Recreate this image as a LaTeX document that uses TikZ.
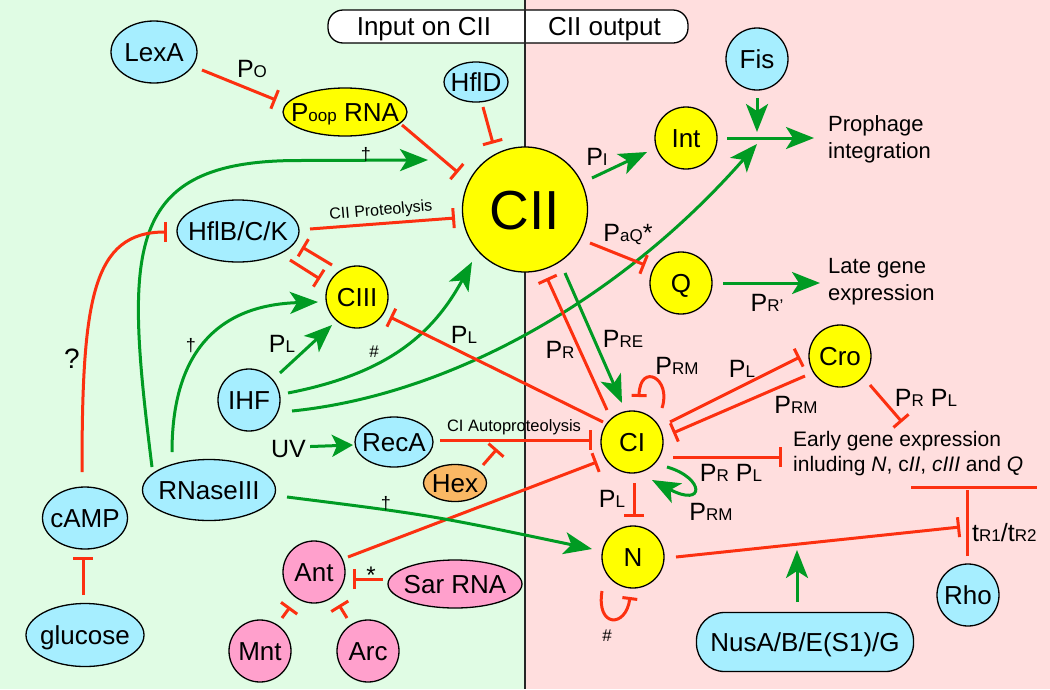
\documentclass[tikz,border=0pt]{standalone}
\usepackage{fontspec}
\setmainfont{Liberation Sans}
\usetikzlibrary{arrows.meta,shapes.geometric}
\definecolor{bgG}{RGB}{224,252,228}
\definecolor{bgP}{RGB}{255,222,222}
\definecolor{nBlue}{RGB}{166,238,255}
\definecolor{nYel}{RGB}{255,255,0}
\definecolor{nOra}{RGB}{250,184,100}
\definecolor{nPink}{RGB}{255,160,204}
\definecolor{cRed}{RGB}{252,48,16}
\definecolor{cGreen}{RGB}{0,155,35}
\newcommand\fN{\fontsize{26}{30}\selectfont}
\newcommand\fL{\fontsize{25}{30}\selectfont}
\newcommand\sbs[1]{{\fontsize{17}{20}\selectfont #1}}
\newcommand\zw[1]{\makebox[0pt]{#1}}
\begin{document}
\begin{tikzpicture}[x=1pt,y=-1pt,
  nd/.style={draw=black, line width=1.3pt, inner sep=0pt, text height=18.6pt, text depth=0pt, font=\fN},
  el/.style={nd, ellipse},
  ci/.style={nd, circle, minimum size=62pt},
  fb/.style={fill=nBlue}, fy/.style={fill=nYel}, fo/.style={fill=nOra}, fp/.style={fill=nPink},
  inh/.style={draw=cRed, line width=3pt, -{Bar[width=20pt]}},
  inhs/.style={draw=cRed, line width=3pt, -{Bar[width=15pt]}},
  act/.style={draw=cGreen, line width=3pt, -{Stealth[length=28pt,width=22pt,inset=7pt]}},
  acts/.style={draw=cGreen, line width=3pt, -{Stealth[length=21pt,width=22pt,inset=5pt]}},
  lab/.style={inner sep=0pt, font=\fL, anchor=base},
  sym/.style={inner sep=0pt, font=\fontsize{18}{20}\selectfont},
  txt/.style={inner sep=0pt, font=\fontsize{22}{26}\selectfont, anchor=base west},
  etxt/.style={inner sep=0pt, font=\fontsize{21}{26}\selectfont, anchor=base west},
]
\useasboundingbox (0,0) rectangle (1050,689);
\fill[bgG] (0,0) rectangle (525,689);
\fill[bgP] (525,0) rectangle (1050,689);
\draw[line width=1.3pt, fill=white, rounded corners=15pt] (328,10) rectangle (688,43);
\draw[line width=1.2pt, black!85] (525,0) -- (525,689);
\node[lab, font=\fontsize{26}{30}\selectfont] (hin) at (424,35) {Input on CII};
\node[lab, font=\fontsize{26}{30}\selectfont] (hout) at (604.5,35) {CII output};

% nodes
\node[el,fb,minimum width=86pt,minimum height=62pt] (LexA) at (154,52) {\zw{LexA}};
\node[el,fy,minimum width=124pt,minimum height=48pt] (Poop) at (345,112) {\zw{P\sbs{oop} RNA}};
\node[el,fb,minimum width=64pt,minimum height=40pt] (HflD) at (476,82) {\zw{HflD}};
\node[nd,circle,fy,minimum size=125pt,text height=39.4pt,font=\fontsize{55}{60}\selectfont] (CII) at (525,209.5) {\zw{CII}};
\node[ci,fy] (Int) at (686,138) {\zw{Int}};
\node[ci,fb] (Fis) at (757,59) {\zw{Fis}};
\node[ci,fy] (Q) at (681,283) {\zw{Q}};
\node[ci,fy] (Cro) at (840,356) {\zw{Cro}};
\node[ci,fy] (CI) at (632,442) {\zw{CI}};
\node[ci,fy] (N) at (633,557) {\zw{N}};
\node[ci,fy] (CIII) at (357,297) {\zw{CIII}};
\node[el,fb,minimum width=122pt,minimum height=62pt] (HflB) at (238,231) {\zw{HflB/C/K}};
\node[ci,fb] (IHF) at (249,400) {\zw{IHF}};
\node[el,fb,minimum width=78pt,minimum height=50pt] (RecA) at (394,442) {\zw{RecA}};
\node[el,fo,minimum width=63pt,minimum height=37pt] (Hex) at (455,483) {\zw{Hex}};
\node[el,fb,minimum width=133pt,minimum height=61pt] (RNase) at (209,490) {\zw{RNaseIII}};
\node[el,fb,minimum width=85pt,minimum height=62pt] (cAMP) at (85,518) {\zw{cAMP}};
\node[el,fb,minimum width=118pt,minimum height=63pt] (glucose) at (85,635) {\zw{glucose}};
\node[ci,fp] (Ant) at (314,572) {\zw{Ant}};
\node[ci,fp] (Mnt) at (260,651) {\zw{Mnt}};
\node[ci,fp] (Arc) at (368,651) {\zw{Arc}};
\node[el,fp,minimum width=134pt,minimum height=48pt] (Sar) at (455,584) {\zw{Sar RNA}};
\node[nd,fb,rectangle,rounded corners=28pt,minimum width=217pt,minimum height=59pt] (Nus) at (805,642) {\zw{NusA/B/E(S1)/G}};
\node[ci,fb] (Rho) at (968,595) {\zw{Rho}};

% text nodes
\node[txt] (pro1) at (828,131.7) {Prophage};
\node[txt] (pro2) at (828,158) {integration};
\node[txt] (late1) at (828,273.5) {Late gene};
\node[txt] (late2) at (828,300) {expression};
\node[etxt] (ear1) at (793,446.7) {Early gene expression};
\node[etxt] (ear2) at (793,471.5) {inluding \textit{N}, c\textit{II}, \textit{cIII} and \textit{Q}};
\node[lab, anchor=base west] (tr) at (972,541) {t\sbs{R1}/t\sbs{R2}};
\node[lab] (UV) at (288.5,457) {UV};

\coordinate (J) at (757,138);
\coordinate (hexT) at (497,449);
\coordinate (nusT) at (797,550);
\coordinate (rhoTop) at (967,490);
\coordinate (rb1) at (911,487);
\coordinate (rb2) at (1037,487);

% connectors
\draw[inh] ([shift={(48,18)}]LexA.center) -- ([shift={(-69,-12)}]Poop.center);
\draw[inh] ([shift={(57,13)}]Poop.center) -- ([shift={(-67,-37)}]CII.center);
\draw[inh] ([shift={(7,25)}]HflD.center) -- ([shift={(-32,-66)}]CII.center);
\draw[act] ([shift={(-57,-23)}]RNase.center) .. controls (125,250) and (122,160) .. (300,160.5) -- ([shift={(-97,-49.5)}]CII.center);
\draw[inh] ([shift={(72,-2)}]HflB.center) -- ([shift={(-70,8.5)}]CII.center);
\draw[inh] ([shift={(-25,-32)}]CIII.center) -- ([shift={(64,16)}]HflB.center);
\draw[inh] ([shift={(52,29)}]HflB.center) -- ([shift={(-37,-18)}]CIII.center);
\draw[inh] ([shift={(-3,-46)}]cAMP.center) .. controls (82,300) and (92,232) .. ([shift={(-71,1)}]HflB.center);
\draw[inh] ([shift={(-2,-40)}]glucose.center) -- ([shift={(-2,39)}]cAMP.center);
\draw[act] ([shift={(31,-27)}]IHF.center) -- ([shift={(-25,28)}]CIII.center);
\draw[act] ([shift={(-37,-38)}]RNase.center) .. controls (172,350) and (220,305) .. ([shift={(-39,5)}]CIII.center);
\draw[act] ([shift={(39,-7)}]IHF.center) .. controls (380,375) and (430,340) .. ([shift={(-53,52.5)}]CII.center);
\draw[act] ([shift={(43,11)}]IHF.center) .. controls (450,395) and (620,300) .. ([shift={(0,6)}]J);
\draw[act] ([shift={(41,0)}]Int.center) -- ([shift={(-14,6.3)}]pro1.base west);
\draw[act] ([shift={(0,39)}]Fis.center) -- ([shift={(0,-6)}]J);
\draw[inh] ([shift={(-29,-20)}]CI.center) -- ([shift={(33,20)}]CIII.center);
\draw[acts] ([shift={(4,-2)}]UV.east) -- ([shift={(-41,3)}]RecA.center);
\draw[inh] ([shift={(46,-2)}]RecA.center) -- ([shift={(-40,-2)}]CI.center);
\draw[inh] ([shift={(28,-18)}]Hex.center) -- (hexT);
\draw[inh] ([shift={(34,-15)}]Ant.center) -- ([shift={(-35,20)}]CI.center);
\draw[act] ([shift={(78,7)}]RNase.center) .. controls (430,515) .. ([shift={(-41,-8)}]N.center);
\draw[inh] ([shift={(-72,-5)}]Sar.center) -- ([shift={(39,7)}]Ant.center);
\draw[inh] ([shift={(22,-33)}]Mnt.center) -- ([shift={(-24,35)}]Ant.center);
\draw[inh] ([shift={(-21,-33)}]Arc.center) -- ([shift={(25,33)}]Ant.center);
\draw[act] ([shift={(67,-31.5)}]CII.center) -- ([shift={(-39,14)}]Int.center);
\draw[inh] ([shift={(65,33.5)}]CII.center) -- ([shift={(-36,-18)}]Q.center);
\draw[act] ([shift={(42,0)}]Q.center) -- ([shift={(-8,9.5)}]late1.base west);
\draw[inh] ([shift={(-25,-32)}]CI.center) -- ([shift={(22,68.5)}]CII.center);
\draw[act] ([shift={(40,63.5)}]CII.center) -- ([shift={(-10,-39)}]CI.center);
\draw[inhs] ([shift={(30,-34)}]CI.center) .. controls (672,378) and (640,362) .. ([shift={(7,-45)}]CI.center);
\draw[act] ([shift={(35,25)}]CI.center) .. controls (705,478) and (705,508) .. ([shift={(20,38)}]CI.center);
\draw[inh] ([shift={(38,-20)}]CI.center) -- ([shift={(-40,1)}]Cro.center);
\draw[inh] ([shift={(-35,20)}]Cro.center) -- ([shift={(41,-9)}]CI.center);
\draw[inh] ([shift={(30,29)}]Cro.center) -- ([shift={(109,-24.7)}]ear1.base west);
\draw[inh] ([shift={(41,15)}]CI.center) -- ([shift={(-11,10.3)}]ear1.base west);
\draw[inh] ([shift={(2,41)}]CI.center) -- ([shift={(1,-40)}]N.center);
\draw[inhs] ([shift={(-31,34)}]N.center) .. controls (596,628) and (626,628) .. ([shift={(-3,40)}]N.center);
\draw[inh] ([shift={(43,0)}]N.center) -- ([shift={(-12,-14)}]tr.base west);
\draw[act] ([shift={(-8,-40)}]Nus.center) -- (nusT);
\draw[draw=cRed, line width=3pt] ([shift={(-1,-39)}]Rho.center) -- (rhoTop);
\draw[draw=cRed, line width=3pt] (rb1) -- (rb2);

% labels
\node[lab] (lPO) at (252,77) {P\sbs{O}};
\node[sym] (d1) at (366,155) {†};
\node[inner sep=0pt, font=\fontsize{16}{18}\selectfont, rotate=5] (lprot) at (381,211) {CII Proteolysis};
\node[lab] (lPL1) at (282,352) {P\sbs{L}};
\node[sym] (d2) at (191,346) {†};
\node[inner sep=0pt, font=\fontsize{28}{30}\selectfont] (qm) at (72,359) {?};
\node[inner sep=0pt, font=\fontsize{17}{20}\selectfont] (h1) at (374,352) {\#};
\node[lab] (lPL2) at (464,343) {P\sbs{L}};
\node[inner sep=0pt, font=\fontsize{16.5}{18}\selectfont] (lauto) at (514,427) {CI Autoproteolysis};
\node[sym] (d3) at (386,504) {†};
\node[lab, font=\fontsize{24}{26}\selectfont] (ast) at (371,583) {*};
\node[lab] (lPI) at (597,165) {P\sbs{I}};
\node[lab] (lPaQ) at (628,241) {P\sbs{aQ}*};
\node[lab] (lPR) at (560,358) {P\sbs{R}};
\node[lab] (lPRE) at (623,347) {P\sbs{RE}};
\node[lab] (lPRM1) at (677,374) {P\sbs{RM}};
\node[lab] (lPRM2) at (711,520) {P\sbs{RM}};
\node[lab] (lPL3) at (742,377) {P\sbs{L}};
\node[lab] (lPRM3) at (796,413) {P\sbs{RM}};
\node[lab] (lPRPL1) at (926,406) {P\sbs{R} P\sbs{L}};
\node[lab] (lPRPL2) at (731,481) {P\sbs{R} P\sbs{L}};
\node[lab] (lPL4) at (612,507) {P\sbs{L}};
\node[inner sep=0pt, font=\fontsize{17}{20}\selectfont] (h2) at (607,636) {\#};
\node[lab] (lPRp) at (767,311) {P\sbs{R’}};
\end{tikzpicture}
\end{document}
